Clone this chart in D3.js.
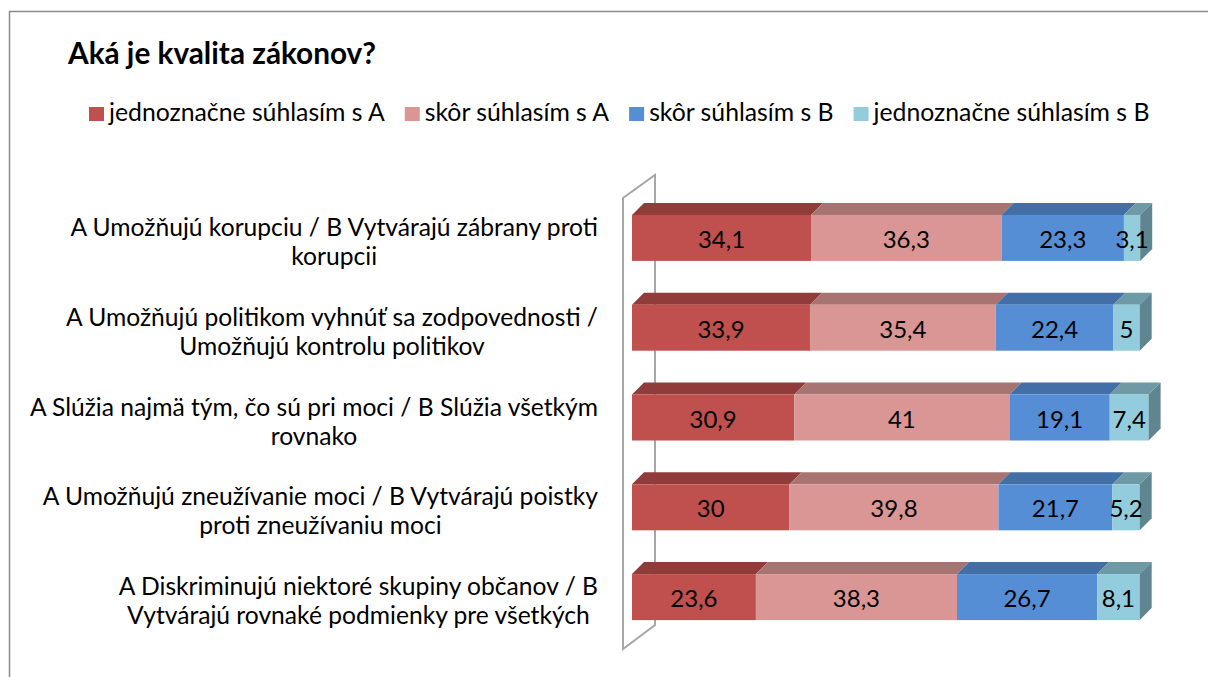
<!DOCTYPE html>
<html>
<head>
<meta charset="utf-8">
<script src="https://cdn.jsdelivr.net/npm/d3@7"></script>
<style>
  body { margin: 0; background: #fff; }
  svg { display: block; font-family: Lato, "Open Sans", sans-serif; }
</style>
</head>
<body>
<svg id="chart" width="1208" height="677"></svg>
<script>
// data
var categories = [
  ["A Umožňujú korupciu / B Vytvárajú zábrany proti", "korupcii"],
  ["A Umožňujú politikom vyhnúť sa zodpovednosti /", "Umožňujú kontrolu politikov"],
  ["A Slúžia najmä tým, čo sú pri moci / B Slúžia všetkým", "rovnako"],
  ["A Umožňujú zneužívanie moci / B Vytvárajú poistky", "proti zneužívaniu moci"],
  ["A Diskriminujú niektoré skupiny občanov / B", "Vytvárajú rovnaké podmienky pre všetkých"]
];
var seriesNames = ["jednoznačne súhlasím s A", "skôr súhlasím s A", "skôr súhlasím s B", "jednoznačne súhlasím s B"];
var strongA = [34.1, 33.9, 30.9, 30, 23.6];
var ratherA = [36.3, 35.4, 41, 39.8, 38.3];
var ratherB = [23.3, 22.4, 19.1, 21.7, 26.7];
var strongB = [3.1, 5, 7.4, 5.2, 8.1];

var frontColors = ["#C0504D", "#D99694", "#558ED5", "#93CDDD"];
var topColors = ["#903C3A", "#A77472", "#426FA6", "#6E9AA6"];
var sideColor = "#5F8690";

var svg = d3.select("#chart");

var rows = categories.map(function(c, i) {
  return {i: i, s0: strongA[i], s1: ratherA[i], s2: ratherB[i], s3: strongB[i]};
});
var keys = ["s0", "s1", "s2", "s3"];
var stacked = d3.stack().keys(keys)(rows);

var x = d3.scaleLinear().domain([0, 100]).range([632, 1157]);
var y = d3.scaleBand()
    .domain(d3.range(categories.length))
    .range([193, 642])
    .paddingInner(0.4875)
    .paddingOuter(0.24375);

var dx = 12, dy = -12, h = y.bandwidth();

// helper: font size so a text gets a given width
function fitSize(txt, weight, target) {
  var t = svg.append("text").attr("font-size", 100).attr("font-weight", weight).text(txt);
  var w = t.node().getComputedTextLength();
  t.remove();
  return 100 * target / w;
}

// outer border
svg.append("rect")
    .attr("x", 9.5).attr("y", 11.5)
    .attr("width", 1300).attr("height", 800)
    .attr("fill", "none")
    .attr("stroke", "#8c8c8c")
    .attr("stroke-width", 1.5);

// title
svg.append("text")
    .attr("x", 68).attr("y", 64)
    .attr("font-weight", "bold")
    .attr("font-size", fitSize("Aká je kvalita zákonov?", "bold", 308))
    .attr("fill", "#000")
    .text("Aká je kvalita zákonov?");

// legend
var legendSize = fitSize(seriesNames[0], "normal", 276);
var lx = 89;
seriesNames.forEach(function(name, k) {
  svg.append("rect")
      .attr("x", lx).attr("y", 107)
      .attr("width", 15).attr("height", 14)
      .attr("fill", frontColors[k]);
  var t = svg.append("text")
      .attr("x", lx + 20).attr("y", 121)
      .attr("font-size", legendSize)
      .attr("fill", "#000")
      .text(name);
  lx = lx + 20 + t.node().getComputedTextLength() + 20;
});

// back wall
var w0 = x(0);
svg.append("path")
    .attr("d", "M" + (w0 - 9) + ",198 L" + (w0 + 23) + ",175 L" + (w0 + 23) + ",625 L" + (w0 - 9) + ",649 Z")
    .attr("fill", "none")
    .attr("stroke", "#a6a6a6")
    .attr("stroke-width", 2);

// bars: top faces, fronts, end side
stacked.forEach(function(layer, k) {
  var g = svg.append("g");

  g.selectAll(".top")
    .data(layer)
    .enter()
    .append("path")
    .attr("d", function(d, i) {
      var x0 = x(d[0]), x1 = x(d[1]), yy = y(i);
      return "M" + x0 + "," + yy + "L" + x1 + "," + yy + "L" + (x1 + dx) + "," + (yy + dy) +
             "L" + (x0 + dx) + "," + (yy + dy) + "Z";
    })
    .attr("fill", topColors[k]);

  g.selectAll(".front")
    .data(layer)
    .enter()
    .append("rect")
    .attr("x", function(d) { return x(d[0]); })
    .attr("y", function(d, i) { return y(i); })
    .attr("width", function(d) { return x(d[1]) - x(d[0]); })
    .attr("height", h)
    .attr("fill", frontColors[k]);

  if (k == keys.length - 1) {
    g.selectAll(".side")
      .data(layer)
      .enter()
      .append("path")
      .attr("d", function(d, i) {
        var x1 = x(d[1]), yy = y(i);
        return "M" + x1 + "," + yy + "L" + (x1 + dx) + "," + (yy + dy) + "L" + (x1 + dx) + "," + (yy + h + dy) +
               "L" + x1 + "," + (yy + h) + "Z";
      })
      .attr("fill", sideColor);
  }

  g.selectAll(".val")
    .data(layer)
    .enter()
    .append("text")
    .attr("x", function(d) { return (x(d[0]) + x(d[1])) / 2; })
    .attr("y", function(d, i) { return y(i) + h / 2 + 10; })
    .attr("text-anchor", "middle")
    .attr("font-size", 24)
    .attr("fill", "#000")
    .text(function(d) { return String(+(d[1] - d[0]).toFixed(1)).replace(".", ","); });
});

// category labels, two centred lines, block right aligned
var catSize = fitSize(categories[0][0], "normal", 528);
categories.forEach(function(lines, i) {
  var cy = y(i) + h / 2;
  var g = svg.append("g");
  var texts = lines.map(function(line, j) {
    return g.append("text")
      .attr("y", cy - 2 + j * 29)
      .attr("font-size", catSize)
      .attr("fill", "#000")
      .attr("text-anchor", "middle")
      .text(line);
  });
  var maxW = d3.max(texts, function(t) { return t.node().getComputedTextLength(); });
  texts.forEach(function(t) { t.attr("x", 598 - maxW / 2); });
});
</script>
</body>
</html>
